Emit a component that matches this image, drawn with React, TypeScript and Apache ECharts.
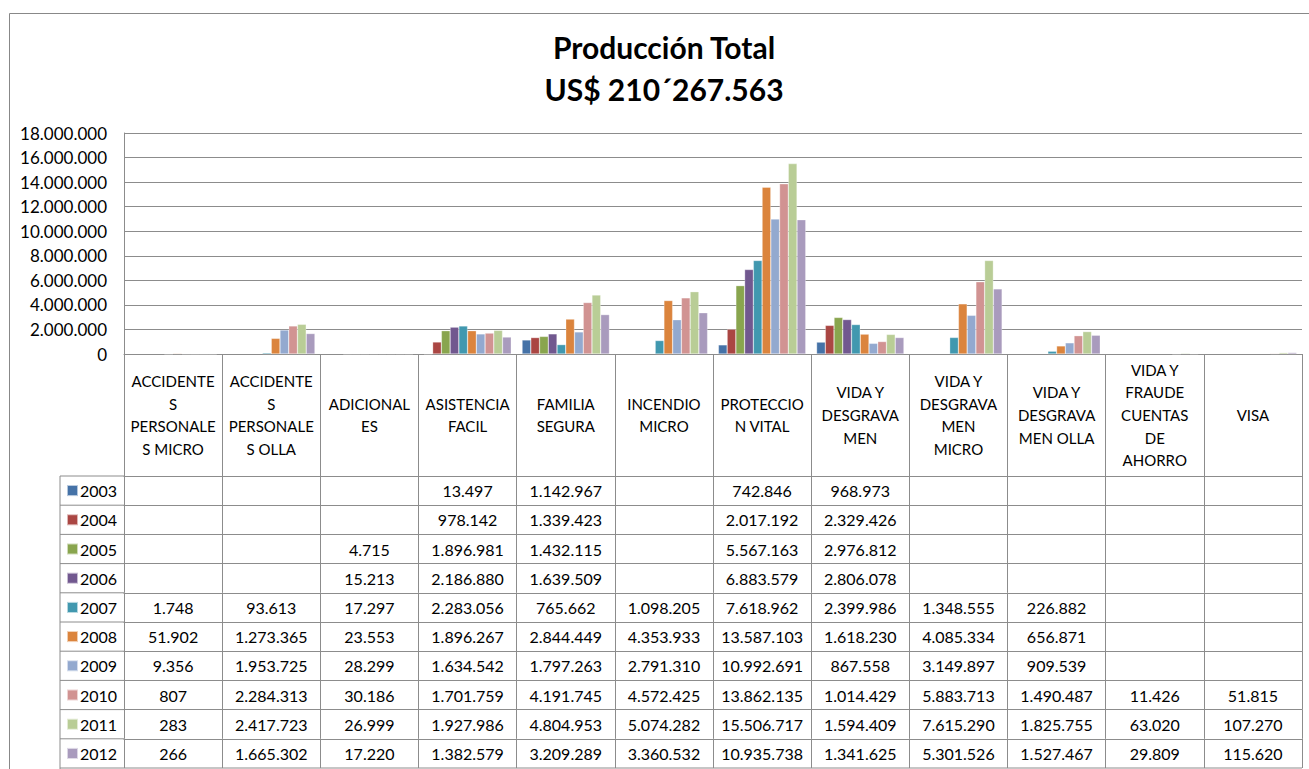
import React, { useEffect, useRef } from "react";
import * as echarts from "echarts";

const categories = [
  "ACCIDENTE\nS\nPERSONALE\nS MICRO",
  "ACCIDENTE\nS\nPERSONALE\nS OLLA",
  "ADICIONAL\nES",
  "ASISTENCIA\nFACIL",
  "FAMILIA\nSEGURA",
  "INCENDIO\nMICRO",
  "PROTECCIO\nN VITAL",
  "VIDA Y\nDESGRAVA\nMEN",
  "VIDA Y\nDESGRAVA\nMEN\nMICRO",
  "VIDA Y\nDESGRAVA\nMEN OLLA",
  "VIDA Y\nFRAUDE\nCUENTAS\nDE\nAHORRO",
  "VISA",
];

const years = ["2003", "2004", "2005", "2006", "2007", "2008", "2009", "2010", "2011", "2012"];

const v2003 = [null, null, null, 13497, 1142967, null, 742846, 968973, null, null, null, null];
const v2004 = [null, null, null, 978142, 1339423, null, 2017192, 2329426, null, null, null, null];
const v2005 = [null, null, 4715, 1896981, 1432115, null, 5567163, 2976812, null, null, null, null];
const v2006 = [null, null, 15213, 2186880, 1639509, null, 6883579, 2806078, null, null, null, null];
const v2007 = [1748, 93613, 17297, 2283056, 765662, 1098205, 7618962, 2399986, 1348555, 226882, null, null];
const v2008 = [51902, 1273365, 23553, 1896267, 2844449, 4353933, 13587103, 1618230, 4085334, 656871, null, null];
const v2009 = [9356, 1953725, 28299, 1634542, 1797263, 2791310, 10992691, 867558, 3149897, 909539, null, null];
const v2010 = [807, 2284313, 30186, 1701759, 4191745, 4572425, 13862135, 1014429, 5883713, 1490487, 11426, 51815];
const v2011 = [283, 2417723, 26999, 1927986, 4804953, 5074282, 15506717, 1594409, 7615290, 1825755, 63020, 107270];
const v2012 = [266, 1665302, 17220, 1382579, 3209289, 3360532, 10935738, 1341625, 5301526, 1527467, 29809, 115620];

const seriesValues = [v2003, v2004, v2005, v2006, v2007, v2008, v2009, v2010, v2011, v2012];

const colors = [
  "#4572A7", "#AA4643", "#89A54E", "#71588F", "#4198AF",
  "#DB843D", "#93A9CF", "#D19392", "#B9CD96", "#A99BBD",
];

const yTicks = { min: 0, max: 18000000, interval: 2000000 };

const titleLines = ["Producción Total", "US$ 210´267.563"];

const fmt = (v: number | null) =>
  v === null || v === undefined ? "" : String(v).replace(/\B(?=(\d{3})+(?!\d))/g, ".");

export default function App() {
  const ref = useRef<HTMLDivElement>(null);

  useEffect(() => {
    if (!ref.current) return;
    const chart = echarts.init(ref.current, undefined, { renderer: "svg" });

    const W = 1309;
    const H = 769;
    const gridLeft = 124;
    const gridRight = W - 1302;
    const gridTop = 133;
    const zeroY = 354;
    const headerH = 122;
    const rowH = 29.2;
    const tableTop = zeroY + headerH;
    const legendLeftX = 60;
    const lineColor = "#8c8c8c";
    const font = "Lato, 'Noto Sans', sans-serif";

    const extraAxes = years.map((y, i) => ({
      type: "category",
      gridIndex: 0,
      position: "bottom",
      offset: headerH + i * rowH,
      data: categories,
      axisLine: { show: true, lineStyle: { color: lineColor, width: 1 } },
      axisTick: { show: true, interval: 0, length: rowH, lineStyle: { color: lineColor, width: 1 } },
      axisLabel: {
        show: true,
        interval: 0,
        hideOverlap: false,
        margin: rowH / 2,
        verticalAlign: "middle",
        fontSize: 16,
        color: "#000",
        fontFamily: font,
        formatter: (_v: string, idx: number) => fmt(seriesValues[i][idx] as any),
      },
      splitLine: { show: false },
    }));

    const graphics: any[] = [
      {
        type: "rect",
        shape: { x: 9.5, y: 13.5, width: 1400, height: 900 },
        style: { fill: "none", stroke: "#888", lineWidth: 1 },
        silent: true,
      },
      {
        type: "line",
        shape: { x1: legendLeftX, y1: tableTop, x2: legendLeftX, y2: H },
        style: { stroke: lineColor, lineWidth: 1 },
        silent: true,
      },
    ];
    for (let i = 0; i <= years.length; i++) {
      const y = tableTop + i * rowH;
      graphics.push({
        type: "line",
        shape: { x1: legendLeftX, y1: y, x2: i === years.length ? W - gridRight : gridLeft, y2: y },
        style: { stroke: lineColor, lineWidth: 1 },
        silent: true,
      });
    }

    const option: any = {
      animation: false,
      backgroundColor: "#fff",
      textStyle: { fontFamily: font },
      color: colors,
      title: {
        text: titleLines.join("\n"),
        left: 664,
        textAlign: "center",
        top: 26,
        padding: 0,
        textStyle: {
          fontSize: 30,
          fontWeight: "bold",
          lineHeight: 42,
          color: "#000",
          fontFamily: font,
        },
      },
      legend: {
        orient: "vertical",
        left: 66,
        top: tableTop + (rowH - 16) / 2,
        padding: 0,
        itemWidth: 11,
        itemHeight: 11,
        itemGap: rowH - 16,
        icon: "rect",
        selectedMode: false,
        data: years,
        textStyle: { fontSize: 16, lineHeight: 16, color: "#000", fontFamily: font, padding: [0, 0, 0, -3] },
      },
      grid: {
        left: gridLeft,
        right: gridRight,
        top: gridTop,
        bottom: H - zeroY,
        containLabel: false,
      },
      xAxis: [
        {
          type: "category",
          gridIndex: 0,
          position: "bottom",
          data: categories,
          axisLine: { show: true, lineStyle: { color: lineColor, width: 1 } },
          axisTick: { show: true, interval: 0, length: headerH, lineStyle: { color: lineColor, width: 1 } },
          axisLabel: {
            interval: 0,
            hideOverlap: false,
            margin: headerH / 2,
            verticalAlign: "middle",
            align: "center",
            fontSize: 15,
            lineHeight: 22.7,
            color: "#000",
            fontFamily: font,
          },
        },
        ...extraAxes,
      ],
      yAxis: {
        type: "value",
        min: yTicks.min,
        max: yTicks.max,
        interval: yTicks.interval,
        axisLine: { show: true, lineStyle: { color: lineColor, width: 1 } },
        axisTick: { show: false },
        splitLine: { show: true, lineStyle: { color: lineColor, width: 1 } },
        axisLabel: {
          margin: 17,
          fontSize: 17,
          color: "#000",
          fontFamily: font,
          formatter: (v: number) => fmt(v),
        },
      },
      series: years.map((y, i) => ({
        name: y,
        type: "bar",
        xAxisIndex: 0,
        yAxisIndex: 0,
        data: seriesValues[i],
        barGap: "0%",
        barCategoryGap: "11%",
        itemStyle: { color: colors[i], borderColor: "rgba(255,255,255,0.6)", borderWidth: 0.5 },
      })),
      graphic: graphics,
    };

    chart.setOption(option);
    return () => chart.dispose();
  }, []);

  return (
    <div
      ref={ref}
      style={{ position: "absolute", left: 0, top: 0, width: "1309px", height: "769px" }}
    />
  );
}
